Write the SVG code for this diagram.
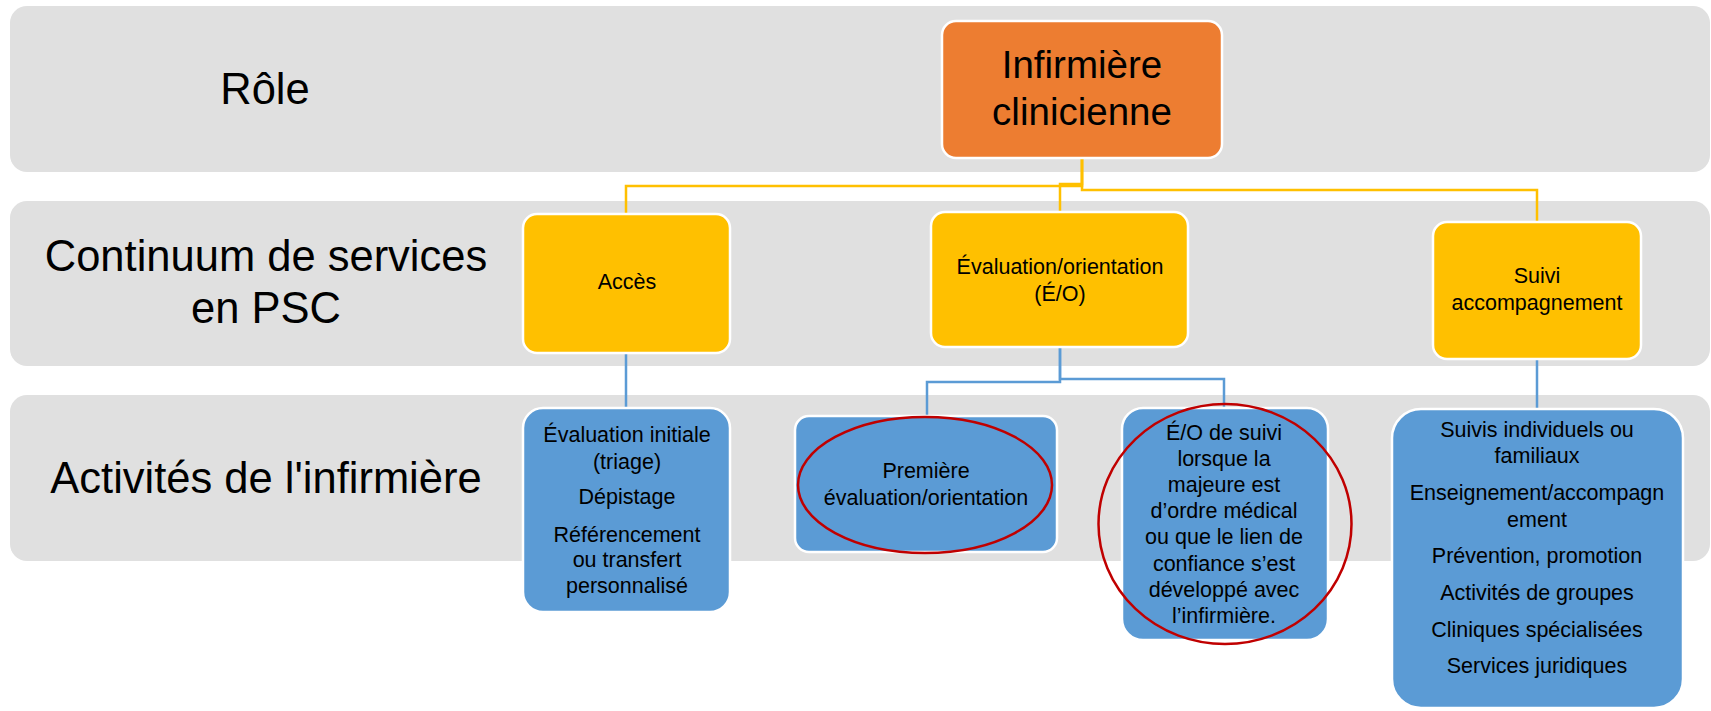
<svg xmlns="http://www.w3.org/2000/svg" width="1711" height="711" viewBox="0 0 1711 711">
  <style>
    .band { fill: #e0e0e0; }
    .lbl { font-family: "Liberation Sans", Arial, sans-serif; font-size: 43.5px; fill: #000; text-anchor: middle; }
    .box { stroke: #ffffff; stroke-width: 2.5; }
    .orange { fill: #ed7d31; }
    .yellow { fill: #ffc000; }
    .blue { fill: #5b9bd5; }
    .t { font-family: "Liberation Sans", Arial, sans-serif; font-size: 21.5px; fill: #000; text-anchor: middle; }
    .big { font-family: "Liberation Sans", Arial, sans-serif; font-size: 38.5px; fill: #000; text-anchor: middle; }
    .cy { fill: none; stroke: #ffc000; stroke-width: 2.5; }
    .cb { fill: none; stroke: #5b9bd5; stroke-width: 2.5; }
    .ring { fill: none; stroke: #c00000; stroke-width: 2.5; }
  </style>

  <!-- row bands -->
  <g id="bands">
    <g id="band-role">
      <rect class="band" x="10" y="6" width="1700" height="166" rx="17"/>
      <text class="lbl" x="265" y="104">Rôle</text>
    </g>
    <g id="band-continuum">
      <rect class="band" x="10" y="201" width="1700" height="165" rx="17"/>
      <text class="lbl" x="266" y="271">Continuum de services</text>
      <text class="lbl" x="266" y="323">en PSC</text>
    </g>
    <g id="band-activites">
      <rect class="band" x="10" y="395" width="1700" height="166" rx="17"/>
      <text class="lbl" x="266" y="493">Activités de l'infirmière</text>
    </g>
  </g>

  <!-- connectors -->
  <g id="connectors">
    <path class="cy" d="M1082 158 V186 H626 V214"/>
    <path class="cy" d="M1082 158 V184 H1060 V212"/>
    <path class="cy" d="M1082 158 V190 H1537 V222"/>
    <path class="cb" d="M626 353 V408"/>
    <path class="cb" d="M1060 347 V382 H927 V416"/>
    <path class="cb" d="M1060 347 V379 H1224 V408"/>
    <path class="cb" d="M1537 359 V409"/>
  </g>

  <!-- role -->
  <g id="infirmiere-clinicienne">
    <rect class="box orange" x="942" y="21" width="280" height="137" rx="14"/>
    <text class="big" x="1082" y="78">Infirmière</text>
    <text class="big" x="1082" y="125">clinicienne</text>
  </g>

  <!-- continuum of services -->
  <g id="acces">
    <rect class="box yellow" x="523" y="214" width="207" height="139" rx="14"/>
    <text class="t" x="627" y="289">Accès</text>
  </g>
  <g id="evaluation-orientation">
    <rect class="box yellow" x="931" y="212" width="257" height="135" rx="14"/>
    <text class="t" x="1060" y="274">Évaluation/orientation</text>
    <text class="t" x="1060" y="301">(É/O)</text>
  </g>
  <g id="suivi-accompagnement">
    <rect class="box yellow" x="1433" y="222" width="208" height="137" rx="14"/>
    <text class="t" x="1537" y="283">Suivi</text>
    <text class="t" x="1537" y="310">accompagnement</text>
  </g>

  <!-- nurse activities -->
  <g id="evaluation-initiale">
    <rect class="box blue" x="523" y="408" width="207" height="204" rx="20"/>
    <text class="t" x="627" y="442">Évaluation initiale</text>
    <text class="t" x="627" y="469">(triage)</text>
    <text class="t" x="627" y="504">Dépistage</text>
    <text class="t" x="627" y="542">Référencement</text>
    <text class="t" x="627" y="567">ou transfert</text>
    <text class="t" x="627" y="593">personnalisé</text>
  </g>
  <g id="premiere-evaluation">
    <rect class="box blue" x="795" y="416" width="262" height="136" rx="14"/>
    <text class="t" x="926" y="478">Première</text>
    <text class="t" x="926" y="505">évaluation/orientation</text>
  </g>
  <g id="eo-de-suivi">
    <rect class="box blue" x="1122" y="408" width="206" height="232" rx="21"/>
    <text class="t" x="1224" y="440">É/O de suivi</text>
    <text class="t" x="1224" y="466">lorsque la</text>
    <text class="t" x="1224" y="492">majeure est</text>
    <text class="t" x="1224" y="518">d’ordre médical</text>
    <text class="t" x="1224" y="544">ou que le lien de</text>
    <text class="t" x="1224" y="571">confiance s’est</text>
    <text class="t" x="1224" y="597">développé avec</text>
    <text class="t" x="1224" y="623">l’infirmière.</text>
  </g>
  <g id="suivis">
    <rect class="box blue" x="1392" y="409" width="291" height="299" rx="29"/>
    <text class="t" x="1537" y="437">Suivis individuels ou</text>
    <text class="t" x="1537" y="463">familiaux</text>
    <text class="t" x="1537" y="500">Enseignement/accompagn</text>
    <text class="t" x="1537" y="527">ement</text>
    <text class="t" x="1537" y="563">Prévention, promotion</text>
    <text class="t" x="1537" y="600">Activités de groupes</text>
    <text class="t" x="1537" y="637">Cliniques spécialisées</text>
    <text class="t" x="1537" y="673">Services juridiques</text>
  </g>

  <!-- red highlight rings -->
  <g id="highlights">
    <ellipse class="ring" cx="925" cy="485" rx="127" ry="68"/>
    <ellipse class="ring" cx="1225" cy="524" rx="126.5" ry="120"/>
  </g>
</svg>
